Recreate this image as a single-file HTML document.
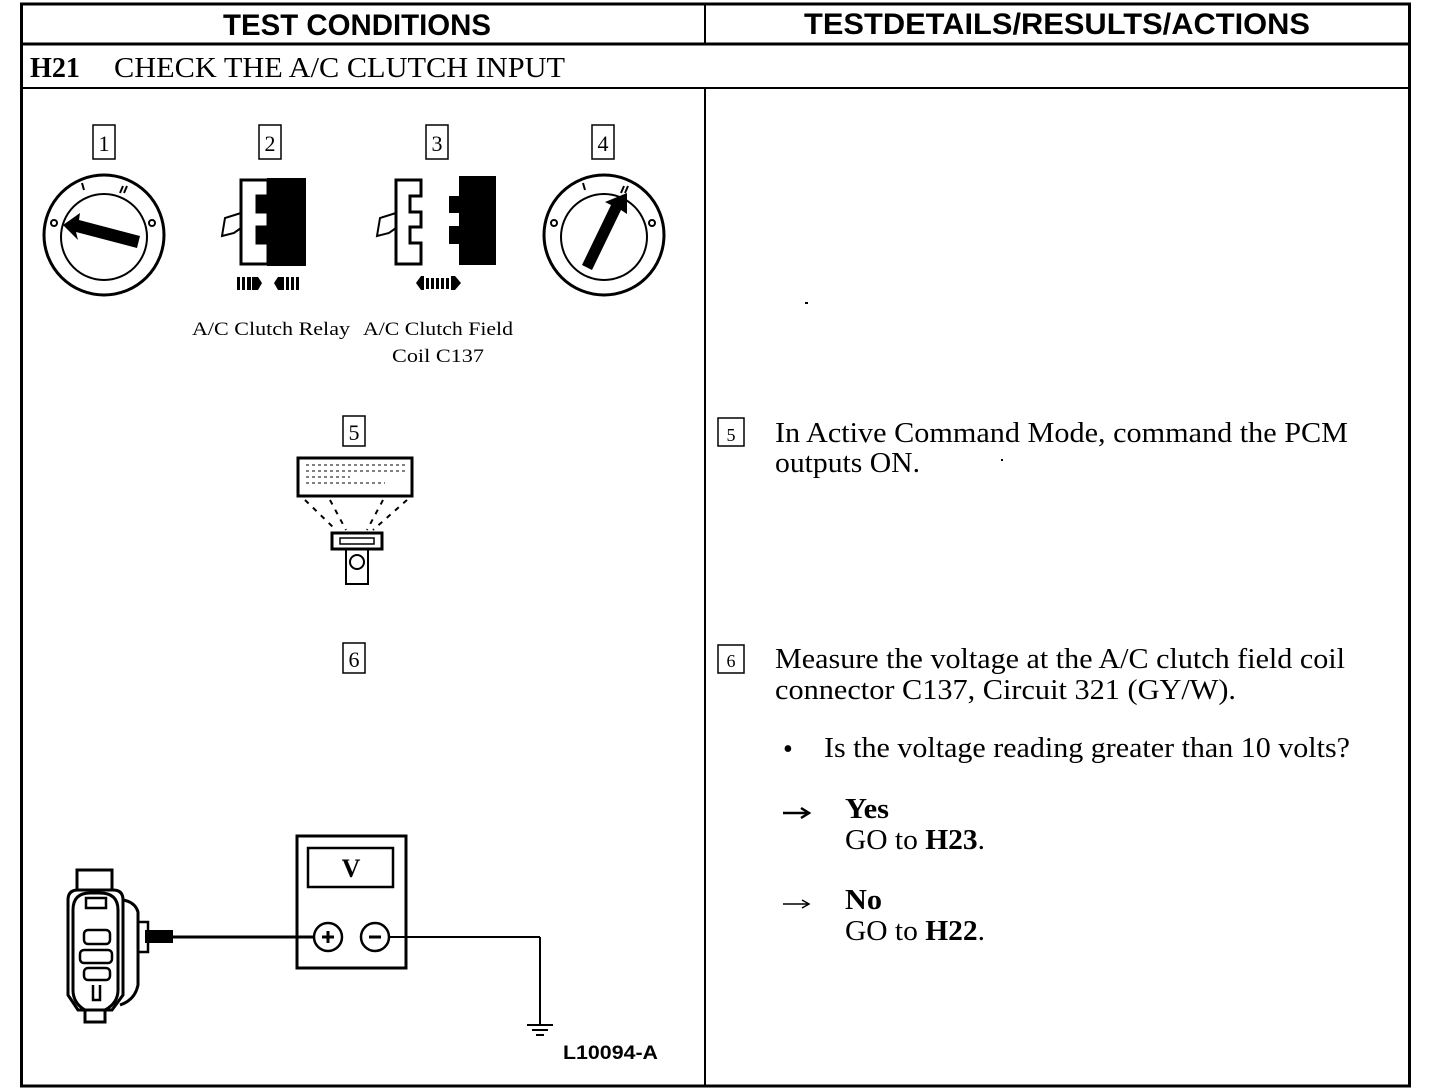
<!DOCTYPE html>
<html><head><meta charset="utf-8"><style>
html,body{margin:0;padding:0;background:#fff;width:1440px;height:1092px;overflow:hidden}
svg{display:block}
.s{font-family:"Liberation Serif",serif;fill:#000}
.h{font-family:"Liberation Sans",sans-serif;font-weight:bold;fill:#000}
</style></head><body>
<svg width="1440" height="1092" viewBox="0 0 1440 1092" xmlns="http://www.w3.org/2000/svg">
<g fill="none" stroke="#000">
<rect x="21.5" y="4" width="1388" height="1082" stroke-width="3"/>
<line x1="21" y1="44" x2="1410" y2="44" stroke-width="3"/>
<line x1="21" y1="88" x2="1410" y2="88" stroke-width="2"/>
<line x1="705" y1="4" x2="705" y2="44" stroke-width="2"/>
<line x1="705" y1="88" x2="705" y2="1086" stroke-width="2"/>
</g>
<text class="h" x="357" y="35" font-size="30" text-anchor="middle" textLength="268" lengthAdjust="spacingAndGlyphs">TEST CONDITIONS</text>
<text class="h" x="1057" y="34" font-size="30" text-anchor="middle" textLength="506" lengthAdjust="spacingAndGlyphs">TESTDETAILS/RESULTS/ACTIONS</text>
<text class="s" x="30" y="77" font-size="28" font-weight="bold" textLength="50" lengthAdjust="spacingAndGlyphs">H21</text>
<text class="s" x="114" y="77" font-size="28" textLength="451" lengthAdjust="spacingAndGlyphs">CHECK THE A/C CLUTCH INPUT</text>

<g fill="none" stroke="#000" stroke-width="1.5">
<rect x="93" y="125" width="22" height="34"/>
<rect x="259" y="125" width="22" height="34"/>
<rect x="426" y="125" width="22" height="34"/>
<rect x="592" y="125" width="22" height="34"/>
<rect x="343" y="416" width="22" height="30"/>
<rect x="343" y="643" width="22" height="30"/>
<rect x="718" y="418" width="26" height="28"/>
<rect x="718" y="645" width="26" height="28"/>
</g>
<g class="s" font-size="22" text-anchor="middle">
<text x="104" y="151">1</text><text x="270" y="151">2</text><text x="437" y="151">3</text><text x="603" y="151">4</text>
<text x="354" y="440">5</text><text x="354" y="667">6</text>
<text x="731" y="441" font-size="18">5</text><text x="731" y="667" font-size="18">6</text>
</g>

<g stroke="#000" fill="none">
<circle cx="104" cy="235" r="60" stroke-width="3"/>
<circle cx="104" cy="237" r="43" stroke-width="2"/>
<line x1="82" y1="183" x2="84" y2="190" stroke-width="2"/>
<line x1="123" y1="186" x2="120" y2="193" stroke-width="2"/>
<line x1="127" y1="186" x2="124" y2="193" stroke-width="2"/>
<polygon points="63,225 80,213 79,220 140,236 137,248 76,232 78,240" fill="#000" stroke="none"/>
<circle cx="54" cy="223" r="3" stroke-width="2"/>
<circle cx="152" cy="223" r="3" stroke-width="2"/>
</g>
<g stroke="#000" fill="none">
<circle cx="604" cy="235" r="60" stroke-width="3"/>
<circle cx="604" cy="237" r="43" stroke-width="2"/>
<line x1="583" y1="183" x2="585" y2="190" stroke-width="2"/>
<line x1="624" y1="186" x2="621" y2="193" stroke-width="2"/>
<line x1="628" y1="186" x2="625" y2="193" stroke-width="2"/>
<polygon points="627,193 627,214 621,210 592,270 582,265 611,205 605,202" fill="#000" stroke="none"/>
<circle cx="554" cy="223" r="3" stroke-width="2"/>
<circle cx="652" cy="223" r="3" stroke-width="2"/>
</g>

<g stroke="#000" stroke-width="2">
<path d="M241,180 H268 V196 H257 V212 H268 V227 H257 V243 H268 V264 H241 Z" fill="#fff" stroke-width="3"/>
<rect x="268" y="179" width="37" height="86" fill="#000"/>
<rect x="257" y="197" width="11" height="14" fill="#000"/>
<rect x="257" y="228" width="11" height="14" fill="#000"/>
<path d="M241,213 L225,218 L222,236 L234,233 L241,228" fill="none"/>
</g>
<g fill="#000">
<rect x="237" y="277" width="3" height="13"/><rect x="242" y="277" width="3" height="13"/><rect x="247" y="277" width="4" height="13"/>
<polygon points="252,277 258,277 262,283 258,290 252,290"/>
<polygon points="274,283 278,277 284,277 284,290 278,290"/>
<rect x="286" y="277" width="3" height="13"/><rect x="291" y="277" width="3" height="13"/><rect x="296" y="277" width="3" height="13"/>
</g>
<g stroke="#000" stroke-width="2">
<path d="M396,180 H421 V196 H410 V212 H421 V227 H410 V243 H421 V264 H396 Z" fill="#fff" stroke-width="3"/>
<path d="M396,213 L380,218 L377,236 L389,233 L396,228" fill="none"/>
<path d="M460,177 H495 V264 H460 V243 H450 V227 H460 V212 H450 V197 H460 Z" fill="#000"/>
</g>
<g fill="#000">
<polygon points="416,283 421,276 424,276 424,290 421,290"/>
<rect x="426" y="278" width="3" height="11"/><rect x="431" y="278" width="3" height="11"/><rect x="436" y="278" width="3" height="11"/><rect x="441" y="278" width="3" height="11"/><rect x="446" y="278" width="3" height="11"/>
<polygon points="451,276 455,276 461,283 455,290 451,290"/>
</g>
<text class="s" x="271" y="335" font-size="19" text-anchor="middle" textLength="158" lengthAdjust="spacingAndGlyphs">A/C Clutch Relay</text>
<text class="s" x="438" y="335" font-size="19" text-anchor="middle" textLength="150" lengthAdjust="spacingAndGlyphs">A/C Clutch Field</text>
<text class="s" x="438" y="362" font-size="19" text-anchor="middle" textLength="92" lengthAdjust="spacingAndGlyphs">Coil C137</text>

<g stroke="#000" fill="none">
<rect x="298" y="458" width="114" height="38" stroke-width="3"/>
<g stroke-width="1" stroke-dasharray="3,3">
<line x1="306" y1="465" x2="405" y2="465"/><line x1="306" y1="471" x2="405" y2="471"/>
<line x1="306" y1="477" x2="350" y2="477"/><line x1="306" y1="483" x2="385" y2="483"/>
</g>
<g stroke-width="2" stroke-dasharray="5,6">
<line x1="305" y1="500" x2="336" y2="530"/><line x1="330" y1="500" x2="346" y2="530"/>
<line x1="383" y1="500" x2="367" y2="530"/><line x1="407" y1="500" x2="373" y2="530"/>
</g>
<rect x="332" y="533" width="50" height="16" stroke-width="3"/>
<rect x="340" y="538" width="34" height="6" stroke-width="1.5"/>
<path d="M346,549 V584 H368 V549" stroke-width="2"/>
<circle cx="357" cy="562" r="7" stroke-width="2"/>
</g>

<g stroke="#000" fill="none">
<rect x="297" y="836" width="109" height="132" stroke-width="3"/>
<rect x="308" y="848" width="85" height="39" stroke-width="2.5"/>
<circle cx="328" cy="937" r="14" stroke-width="2.5"/>
<circle cx="375" cy="937" r="14" stroke-width="2.5"/>
<line x1="322" y1="937" x2="334" y2="937" stroke-width="3"/><line x1="328" y1="931" x2="328" y2="943" stroke-width="3"/>
<line x1="369" y1="937" x2="381" y2="937" stroke-width="3"/>
<line x1="150" y1="937" x2="314" y2="937" stroke-width="3"/>
<line x1="389" y1="937" x2="540" y2="937" stroke-width="2"/>
<line x1="540" y1="937" x2="540" y2="1024" stroke-width="2"/>
<line x1="527" y1="1025" x2="553" y2="1025" stroke-width="2"/>
<line x1="532" y1="1030" x2="548" y2="1030" stroke-width="2"/>
<line x1="536" y1="1035" x2="544" y2="1035" stroke-width="2"/>
</g>
<text class="s" x="351" y="877" font-size="26" font-weight="bold" text-anchor="middle">V</text>
<rect x="145" y="930" width="28" height="13" fill="#000"/>
<g stroke="#000" fill="none" stroke-width="3">
<path d="M77,870 H112 V890 H77 Z"/>
<path d="M68,900 Q68,890 78,890 H113 Q123,890 123,900 V995 L112,1010 H78 L68,995 Z"/>
<path d="M73,910 Q73,893 90,893 H100 Q118,893 118,910 V990 Q118,1003 105,1010 M73,910 V990 Q73,1003 85,1010"/>
<path d="M85,1010 V1022 H105 V1010"/>
<path d="M123,900 Q135,902 138,912 V985 Q135,1000 120,1005" />
<rect x="138" y="922" width="10" height="30" stroke-width="2.5"/>
<rect x="86" y="898" width="20" height="10" stroke-width="2.5"/>
<rect x="84" y="930" width="26" height="14" rx="4" stroke-width="2.5"/>
<rect x="80" y="950" width="32" height="13" rx="4" stroke-width="2.5"/>
<rect x="84" y="968" width="26" height="12" rx="4" stroke-width="2.5"/>
<path d="M93,985 V1000 H100 V985" stroke-width="2.5"/>
</g>
<text class="h" x="563" y="1059" font-size="19" font-weight="normal" textLength="95" lengthAdjust="spacingAndGlyphs">L10094-A</text>

<g class="s" font-size="28">
<text x="775" y="442" textLength="573" lengthAdjust="spacingAndGlyphs">In Active Command Mode, command the PCM</text>
<text x="775" y="472" textLength="145" lengthAdjust="spacingAndGlyphs">outputs ON.</text>
<text x="775" y="668" textLength="570" lengthAdjust="spacingAndGlyphs">Measure the voltage at the A/C clutch field coil</text>
<text x="775" y="699" textLength="461" lengthAdjust="spacingAndGlyphs">connector C137, Circuit 321 (GY/W).</text>
<text x="783" y="758">•</text>
<text x="824" y="757" textLength="526" lengthAdjust="spacingAndGlyphs">Is the voltage reading greater than 10 volts?</text>
<text x="845" y="818" font-weight="bold" textLength="44" lengthAdjust="spacingAndGlyphs">Yes</text>
<text x="845" y="849" textLength="140" lengthAdjust="spacingAndGlyphs">GO to <tspan font-weight="bold">H23</tspan>.</text>
<text x="845" y="909" font-weight="bold" textLength="37" lengthAdjust="spacingAndGlyphs">No</text>
<text x="845" y="940" textLength="140" lengthAdjust="spacingAndGlyphs">GO to <tspan font-weight="bold">H22</tspan>.</text>
</g>
<g stroke="#000" fill="none">
<line x1="783" y1="813" x2="808" y2="813" stroke-width="2.5"/><path d="M801,808 L809,813 L801,818" stroke-width="2.5"/>
<line x1="783" y1="904" x2="808" y2="904" stroke-width="1.5"/><path d="M802,900 L809,904 L802,908" stroke-width="1.5"/>
</g>
<rect x="805" y="302" width="3" height="2" fill="#000"/>
<rect x="1001" y="459" width="2" height="2" fill="#000"/>
</svg>
</body></html>
